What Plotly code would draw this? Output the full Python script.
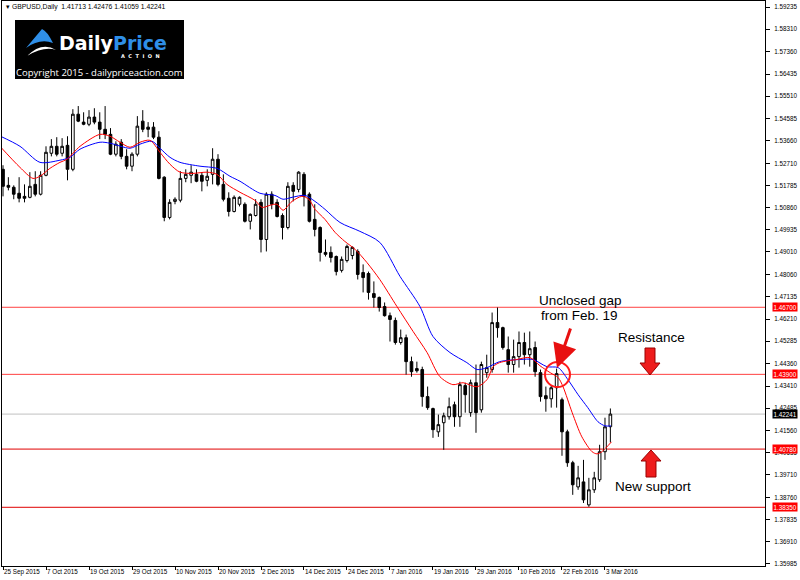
import plotly.graph_objects as go

# ---------------- data (GBPUSD daily) ----------------
open_ = [1.5246,1.5179,1.5171,1.5146,1.5133,1.5129,1.5183,1.5142,1.5221,1.5313,
         1.5342,1.5313,1.5346,1.5246,1.5476,1.5443,1.5434,1.5464,1.5443,1.5413,
         1.5392,1.5309,1.5359,1.5300,1.5259,1.5309,1.5447,1.5422,1.5422,1.5380,
         1.5213,1.5045,1.5112,1.5117,1.5208,1.5221,1.5225,1.5221,1.5200,1.5225,
         1.5288,1.5183,1.5125,1.5070,1.5100,1.5100,1.5029,1.5053,1.5108,1.4953,
         1.5142,1.5108,1.5053,1.5003,1.5179,1.5162,1.5225,1.5142,1.5037,1.5003,
         1.4899,1.4899,1.4882,1.4824,1.4865,1.4886,1.4903,1.4815,1.4811,1.4727,
         1.4711,1.4673,1.4635,1.4615,1.4523,1.4543,1.4443,1.4414,1.4410,1.4297,
         1.4247,1.4150,1.4188,1.4213,1.4263,1.4213,1.4343,1.4230,1.4355,1.4242,
         1.4397,1.4410,1.4606,1.4585,1.4493,1.4431,1.4464,1.4523,1.4472,1.4502,
         1.4397,1.4301,1.4288,1.4334,1.4284,1.4150,1.4021,1.3920,1.3941,1.3845,
         1.3908,1.3950,1.4067,1.41713]
high = [1.5263,1.5213,1.5179,1.5213,1.5183,1.5234,1.5238,1.5238,1.5342,1.5372,
        1.5380,1.5376,1.5384,1.5497,1.5510,1.5484,1.5493,1.5501,1.5484,1.5510,
        1.5418,1.5363,1.5372,1.5330,1.5317,1.5468,1.5493,1.5443,1.5443,1.5405,
        1.5217,1.5121,1.5129,1.5238,1.5246,1.5263,1.5246,1.5234,1.5246,1.5334,
        1.5309,1.5225,1.5150,1.5137,1.5133,1.5108,1.5062,1.5121,1.5121,1.5150,
        1.5154,1.5121,1.5062,1.5192,1.5192,1.5238,1.5234,1.5150,1.5100,1.5008,
        1.4953,1.4924,1.4886,1.4882,1.4932,1.4924,1.4912,1.4849,1.4819,1.4778,
        1.4715,1.4690,1.4648,1.4627,1.4577,1.4556,1.4464,1.4443,1.4422,1.4339,
        1.4251,1.4222,1.4230,1.4293,1.4276,1.4359,1.4355,1.4368,1.4431,1.4443,
        1.4472,1.4648,1.4669,1.4589,1.4548,1.4535,1.4569,1.4564,1.4569,1.4527,
        1.4410,1.4339,1.4343,1.4414,1.4293,1.4159,1.4029,1.4008,1.4033,1.3958,
        1.3983,1.4096,1.4209,1.42476]
low = [1.5133,1.5158,1.5121,1.5108,1.5108,1.5125,1.5133,1.5137,1.5217,1.5300,
       1.5300,1.5300,1.5200,1.5238,1.5443,1.5430,1.5426,1.5434,1.5372,1.5372,
       1.5305,1.5300,1.5288,1.5246,1.5238,1.5300,1.5401,1.5380,1.5372,1.5204,
       1.5029,1.5037,1.5100,1.5108,1.5192,1.5188,1.5192,1.5154,1.5175,1.5183,
       1.5175,1.5112,1.5049,1.5066,1.5091,1.5024,1.4995,1.5049,1.4899,1.4903,
       1.5079,1.5045,1.4953,1.4995,1.5112,1.5150,1.5091,1.5024,1.4966,1.4861,
       1.4882,1.4857,1.4803,1.4815,1.4857,1.4870,1.4786,1.4732,1.4702,1.4669,
       1.4652,1.4631,1.4527,1.4514,1.4514,1.4389,1.4380,1.4397,1.4255,1.4242,
       1.4125,1.4129,1.4075,1.4201,1.4171,1.4171,1.4230,1.4213,1.4146,1.4230,
       1.4376,1.4397,1.4543,1.4493,1.4397,1.4397,1.4418,1.4431,1.4422,1.4380,
       1.4276,1.4234,1.4251,1.4251,1.4050,1.4004,1.3887,1.3908,1.3853,1.3837,
       1.3895,1.3941,1.4033,1.41059]
close = [1.5175,1.5171,1.5142,1.5125,1.5125,1.5175,1.5142,1.5221,1.5317,1.5342,
         1.5309,1.5342,1.5246,1.5476,1.5447,1.5434,1.5464,1.5443,1.5413,1.5392,
         1.5309,1.5351,1.5300,1.5259,1.5309,1.5426,1.5413,1.5413,1.5380,1.5208,
         1.5045,1.5108,1.5121,1.5208,1.5225,1.5234,1.5196,1.5196,1.5217,1.5288,
         1.5183,1.5121,1.5070,1.5129,1.5129,1.5029,1.5058,1.5100,1.4953,1.5142,
         1.5100,1.5049,1.5003,1.5175,1.5154,1.5234,1.5133,1.5029,1.4995,1.4899,
         1.4891,1.4878,1.4819,1.4870,1.4924,1.4920,1.4807,1.4794,1.4732,1.4711,
         1.4669,1.4635,1.4619,1.4523,1.4543,1.4443,1.4401,1.4405,1.4297,1.4251,
         1.4159,1.4180,1.4217,1.4255,1.4213,1.4347,1.4305,1.4355,1.4230,1.4431,
         1.4418,1.4606,1.4585,1.4502,1.4431,1.4464,1.4523,1.4472,1.4497,1.4401,
         1.4297,1.4288,1.4334,1.4393,1.4150,1.4021,1.3929,1.3958,1.3866,1.3908,
         1.3958,1.4067,1.4171,1.42241]

# moving averages (read at points along the lines; x = bar number)
red_idx = [-0.56,3.16,5.58,6.88,8.74,10.6,11.9,14.33,18.05,19.9,21.77,23.63,25.49,27.35,
           29.2,31.07,32.93,35.35,37.95,39.81,41.67,44.1,46.9,48.2,49.7,50.98,52.1,53.77,
           55.6,56.9,58.05,59.9,61.77,63.6,65.5,67.7,70.1,73.3,76.3,78.9,81.3,83.7,85.6,
           88.2,90.05,91.2,92.4,95.6,98.05,99.9,101.8,103.3,104.2,105.9,107.7,109.6,110.5,
           111.4,113.2]
red_val = [1.5342,1.5254,1.5208,1.5217,1.5250,1.5275,1.5288,1.5342,1.5392,1.5384,1.5359,
           1.5338,1.5359,1.5367,1.5317,1.5267,1.5234,1.5229,1.5234,1.5225,1.5183,1.5150,
           1.5116,1.5087,1.5096,1.5100,1.5075,1.5112,1.5133,1.5121,1.5079,1.5037,1.4983,
           1.4945,1.4912,1.4857,1.4786,1.4673,1.4569,1.4481,1.4380,1.4347,1.4355,1.4338,
           1.4368,1.4422,1.4439,1.4452,1.4460,1.4426,1.4397,1.4376,1.4338,1.4230,1.4129,
           1.4067,1.4058,1.4067,1.4108]
blue_idx = [-0.56,3.16,6.88,10.6,12.47,14.33,18.05,19.9,23.63,25.49,27.72,29.2,31.07,32.93,
            36.65,39.81,42.23,44.1,47.8,50.6,52.1,53.77,56.2,58.05,59.9,62.7,66.4,70.1,
            73.86,77.58,80.0,83.16,86.3,88.2,90.05,92.4,96.2,98.6,101.2,103.3,105.1,107.0,
            108.8,110.7,112.0,113.1]
blue_val = [1.5385,1.5342,1.5275,1.5284,1.5296,1.5330,1.5359,1.5355,1.5334,1.5351,1.5363,
            1.5334,1.5296,1.5275,1.5259,1.5250,1.5217,1.5196,1.5146,1.5137,1.5121,1.5129,
            1.5137,1.5112,1.5079,1.5024,1.4987,1.4941,1.4799,1.4673,1.4548,1.4481,1.4439,
            1.4410,1.4418,1.4443,1.4452,1.4452,1.4422,1.4418,1.4368,1.4305,1.4251,1.4192,
            1.4175,1.4175]

date_labels = ["25 Sep 2015","7 Oct 2015","19 Oct 2015","29 Oct 2015","10 Nov 2015",
               "20 Nov 2015","2 Dec 2015","14 Dec 2015","24 Dec 2015","7 Jan 2016",
               "19 Jan 2016","29 Jan 2016","10 Feb 2016","22 Feb 2016","3 Mar 2016"]
price_ticks = [1.59235,1.58310,1.57360,1.56435,1.55510,1.54585,1.53660,1.52710,1.51785,
               1.50860,1.49935,1.49010,1.48060,1.47135,1.46210,1.45285,1.44360,1.43410,
               1.42485,1.41560,1.40635,1.39710,1.38760,1.37835,1.36910,1.35985]
levels = [1.46700, 1.43900, 1.40780, 1.38350]
level_colors = ["#ff4040", "#ff4040", "#e00000", "#e00000"]

# ---------------- figure ----------------
W, H = 800, 580
ML, MR, MT, MB = 2, 35, 1, 14
PW, PH = W - ML - MR, H - MT - MB

def PX(x):
    return (x - ML) / PW

def PY(y):
    return (H - MB - y) / PH

TICKFONT = dict(family="Liberation Sans, Arial, sans-serif", size=6.3, color="black")

bars = list(range(len(close)))
fig = go.Figure()
fig.add_trace(go.Candlestick(
    x=bars, open=open_, high=high, low=low, close=close,
    increasing=dict(line=dict(color="black", width=1), fillcolor="white"),
    decreasing=dict(line=dict(color="black", width=1), fillcolor="black"),
    whiskerwidth=0, hoverinfo="skip", showlegend=False))
fig.add_trace(go.Scatter(x=blue_idx, y=blue_val, mode="lines",
                         line=dict(color="#0000ff", width=1, shape="spline", smoothing=0.8),
                         hoverinfo="skip", showlegend=False))
fig.add_trace(go.Scatter(x=red_idx, y=red_val, mode="lines",
                         line=dict(color="#ff0000", width=1, shape="spline", smoothing=0.8),
                         hoverinfo="skip", showlegend=False))

shapes = []
for lv, col in zip(levels, level_colors):
    shapes.append(dict(type="line", xref="paper", x0=0, x1=1, yref="y", y0=lv, y1=lv,
                       line=dict(color=col, width=1), layer="below"))
shapes.append(dict(type="line", xref="paper", x0=0, x1=1, yref="y", y0=close[-1], y1=close[-1],
                   line=dict(color="#c0c0c0", width=1), layer="below"))

# red circle around the gap
shapes.append(dict(type="circle", xref="paper", yref="paper",
                   x0=PX(545), x1=PX(570), y0=PY(387), y1=PY(362),
                   line=dict(color="#ff1a1a", width=2)))

def path(points):
    s = "M " + " L ".join(f"{PX(x):.5f},{PY(y):.5f}" for x, y in points) + " Z"
    return s

# block arrows
shapes.append(dict(type="path", xref="paper", yref="paper",
                   path=path([(645, 348), (655, 348), (655, 363), (660, 363), (650, 375),
                              (640, 363), (645, 363)]),
                   fillcolor="#ee1c1c", line=dict(color="#990000", width=1)))
shapes.append(dict(type="path", xref="paper", yref="paper",
                   path=path([(651, 450), (661, 461), (656, 461), (656, 477), (646, 477),
                              (646, 461), (641, 461)]),
                   fillcolor="#ee1c1c", line=dict(color="#990000", width=1)))

# logo
shapes.append(dict(type="rect", xref="paper", yref="paper",
                   x0=PX(15), x1=PX(184), y0=PY(79), y1=PY(20),
                   fillcolor="black", line=dict(width=0)))
shapes.append(dict(type="path", xref="paper", yref="paper",
                   path=f"M {PX(26)},{PY(48)} L {PX(42)},{PY(29)} Q {PX(47)},{PY(31)} {PX(53)},{PY(43)} "
                        f"Q {PX(40)},{PY(38)} {PX(26)},{PY(48)} Z",
                   fillcolor="#2f8fe8", line=dict(width=0)))
shapes.append(dict(type="path", xref="paper", yref="paper",
                   path=f"M {PX(27)},{PY(56)} Q {PX(42)},{PY(41)} {PX(56)},{PY(50)} "
                        f"Q {PX(44)},{PY(46)} {PX(27)},{PY(56)} Z",
                   fillcolor="white", line=dict(width=0)))

annotations = []
# price tags on the axis
for lv in levels:
    annotations.append(dict(xref="paper", x=1, yref="y", y=lv, xanchor="left", yanchor="middle",
                            xshift=7, text=f"{lv:.5f}", showarrow=False, bgcolor="#ff0000",
                            borderpad=0.5, font=dict(TICKFONT, color="white")))
annotations.append(dict(xref="paper", x=1, yref="y", y=close[-1], xanchor="left", yanchor="middle",
                        xshift=7, text=f"{close[-1]:.5f}", showarrow=False, bgcolor="black",
                        borderpad=0.5, font=dict(TICKFONT, color="white")))

# header
annotations.append(dict(xref="paper", yref="paper", x=PX(4), y=PY(7), xanchor="left",
                        yanchor="middle", showarrow=False,
                        text=f"▾ GBPUSD,Daily  {open_[-1]:.5f} {high[-1]:.5f} {low[-1]:.5f} {close[-1]:.5f}",
                        font=dict(TICKFONT, size=6.8)))
# logo text
annotations.append(dict(xref="paper", yref="paper", x=PX(57), y=PY(42.5), xanchor="left",
                        yanchor="middle", showarrow=False,
                        text="<b>Daily<span style='color:#2f8fe8'>Price</span></b>",
                        font=dict(family="DejaVu Sans", size=19, color="white")))
annotations.append(dict(xref="paper", yref="paper", x=PX(140), y=PY(56), xanchor="center",
                        yanchor="middle", showarrow=False, text="<b>A  C  T  I  O  N</b>",
                        font=dict(family="DejaVu Sans", size=5, color="white")))
annotations.append(dict(xref="paper", yref="paper", x=PX(99.5), y=PY(72), xanchor="center",
                        yanchor="middle", showarrow=False,
                        text="Copyright 2015 - dailypriceaction.com",
                        font=dict(family="Open Sans", size=9.5, color="white")))

# chart commentary
TXT = dict(family="Liberation Sans, Arial, sans-serif", size=13.5, color="black")
for t, x, y in [("Unclosed gap", 580, 300.5), ("from Feb. 19", 579, 315.5),
                ("Resistance", 651, 337), ("New support", 653, 486)]:
    annotations.append(dict(xref="paper", yref="paper", x=PX(x), y=PY(y), xanchor="center",
                            yanchor="middle", showarrow=False, text=t, font=TXT))
annotations.append(dict(xref="paper", yref="paper", x=PX(557), y=PY(368), ax=14, ay=-41,
                        showarrow=True, arrowhead=2, arrowsize=1.6, arrowwidth=3,
                        arrowcolor="#e81010", text=""))

fig.update_layout(
    width=W, height=H,
    margin=dict(l=ML, r=MR, t=MT, b=MB, autoexpand=False),
    paper_bgcolor="white", plot_bgcolor="white",
    showlegend=False,
    shapes=shapes, annotations=annotations,
    xaxis=dict(range=[-0.186, 141.77], tickvals=list(range(0, 8 * len(date_labels), 8)),
               ticktext=date_labels, ticks="outside", ticklen=3, tickcolor="black",
               tickangle=0, ticklabelposition="outside right", ticklabelstandoff=-1,
               tickfont=TICKFONT,
               showgrid=False, zeroline=False, showline=True, linecolor="black",
               linewidth=1, mirror=True, rangeslider=dict(visible=False), fixedrange=True),
    yaxis=dict(range=[1.35899, 1.59486], side="right", tickvals=price_ticks,
               tickformat=".5f", ticks="outside", ticklen=4, tickcolor="black",
               ticklabelstandoff=3,
               tickfont=TICKFONT, showgrid=False, zeroline=False, showline=True,
               linecolor="black", linewidth=1, mirror=True, fixedrange=True),
)

fig.write_html("out.html", config={"displayModeBar": False},
               post_script="document.body.style.margin='0';document.body.style.overflow='hidden';")
